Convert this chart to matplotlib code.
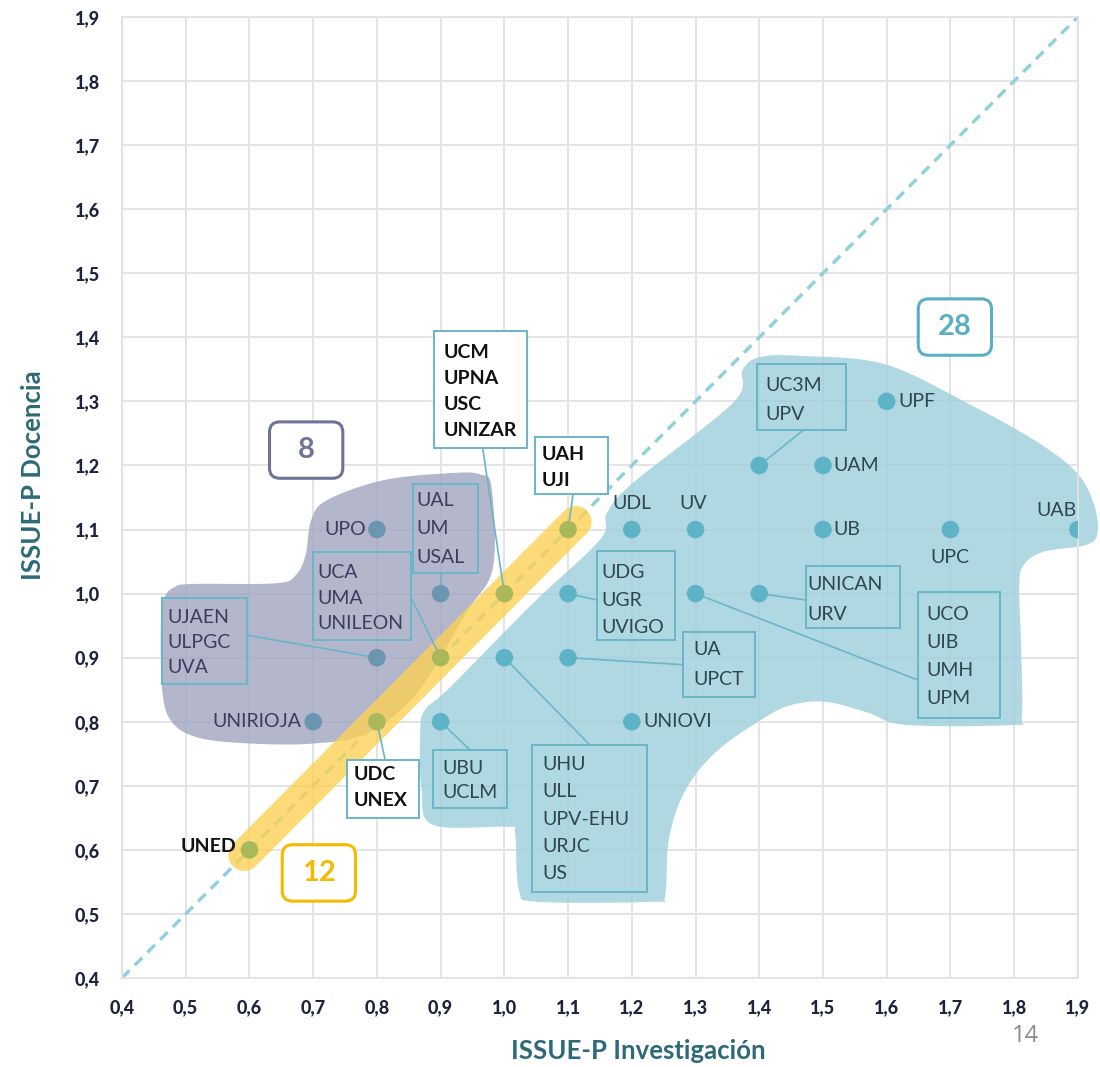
import numpy as np
import matplotlib
matplotlib.use("Agg")
import matplotlib.pyplot as plt
from matplotlib.patches import Rectangle, FancyBboxPatch, Polygon

# ---------------- data ----------------
ticks = [0.4, 0.5, 0.6, 0.7, 0.8, 0.9, 1.0, 1.1, 1.2, 1.3, 1.4, 1.5, 1.6, 1.7, 1.8, 1.9]
tick_labels = ["0,4", "0,5", "0,6", "0,7", "0,8", "0,9", "1,0", "1,1", "1,2", "1,3",
               "1,4", "1,5", "1,6", "1,7", "1,8", "1,9"]

purple_x = [0.8, 0.9, 0.8, 0.7]
purple_y = [1.1, 1.0, 0.9, 0.8]
purple_names = [["UPO"], ["UAL", "UM", "USAL"], ["UJAEN", "ULPGC", "UVA"], ["UNIRIOJA"]]

yellow_x = [0.6, 0.8, 0.9, 1.0, 1.1]
yellow_y = [0.6, 0.8, 0.9, 1.0, 1.1]
yellow_names = [["UNED"], ["UDC", "UNEX"], ["UCA", "UMA", "UNILEON"],
                ["UCM", "UPNA", "USC", "UNIZAR"], ["UAH", "UJI"]]

teal_x = [0.9, 1.0, 1.1, 1.1, 1.2, 1.2, 1.3, 1.3, 1.4, 1.4, 1.5, 1.5, 1.6, 1.7, 1.9]
teal_y = [0.8, 0.9, 0.9, 1.0, 0.8, 1.1, 1.1, 1.0, 1.0, 1.2, 1.2, 1.1, 1.3, 1.1, 1.1]
teal_names = [["UBU", "UCLM"], ["UHU", "ULL", "UPV-EHU", "URJC", "US"], ["UA", "UPCT"],
              ["UDG", "UGR", "UVIGO"], ["UNIOVI"], ["UDL"], ["UV"],
              ["UCO", "UIB", "UMH", "UPM"], ["UNICAN", "URV"], ["UC3M", "UPV"],
              ["UAM"], ["UB"], ["UPF"], ["UPC"], ["UAB"]]

group_counts = {"purple": 8, "yellow": 12, "teal": 28}

# hand drawn group outlines (data units)
purple_outline_x = [0.915, 0.962, 0.980, 0.982, 0.940, 0.863, 0.784, 0.700, 0.601, 0.520,
                    0.478, 0.463, 0.461, 0.466, 0.482, 0.510, 0.640, 0.672, 0.688, 0.697,
                    0.722, 0.810]
purple_outline_y = [1.188, 1.186, 1.165, 1.040, 0.970, 0.845, 0.782, 0.766, 0.766, 0.775,
                    0.800, 0.850, 0.960, 0.993, 1.010, 1.015, 1.016, 1.028, 1.060, 1.115,
                    1.146, 1.177]

teal_outline_x = [1.401, 1.465, 1.597, 1.729, 1.834, 1.897, 1.924, 1.931, 1.913, 1.845,
                  1.814, 1.808, 1.811, 1.812, 1.798, 1.630, 1.571, 1.505, 1.450, 1.403,
                  1.330, 1.282, 1.258, 1.252, 1.233, 1.053, 1.023, 1.017, 1.006, 0.888,
                  0.870, 0.868, 0.875, 0.915, 1.045, 1.150, 1.161, 1.202, 1.359, 1.374]
teal_outline_y = [1.369, 1.371, 1.358, 1.296, 1.238, 1.190, 1.143, 1.096, 1.076, 1.065,
                  1.043, 1.007, 0.912, 0.807, 0.795, 0.795, 0.814, 0.831, 0.826, 0.803,
                  0.751, 0.689, 0.615, 0.527, 0.519, 0.519, 0.537, 0.626, 0.636, 0.639,
                  0.694, 0.782, 0.818, 0.854, 0.985, 1.084, 1.126, 1.173, 1.298, 1.349]

# ---------------- style ----------------
FONT = ["Lato", "DejaVu Sans"]
plt.rcParams["font.family"] = FONT

TEAL_FILL = "#9ccfdc"
PURPLE_FILL = "#a1a4c0"
YELLOW_FILL = "#fcd155"
TEAL_DOT = "#5fb3c7"
PURPLE_DOT = "#6a96b2"
YELLOW_DOT = "#a9b85a"
BOX_EDGE = "#6ab6c9"
TXT_TEAL = "#2e4650"
TXT_PURPLE = "#3b3d5e"
TXT_YELLOW = "#111111"

fig = plt.figure(figsize=(11, 10.67), dpi=100)
ax = fig.add_axes([0.1109, 0.0834, 0.869, 0.9007])
ax.set_xlim(0.4, 1.9)
ax.set_ylim(0.4, 1.9)
ax.set_xticks(ticks)
ax.set_yticks(ticks)
ax.set_xticklabels(tick_labels, fontweight="black", fontsize=13, color="#1f2340")
ax.set_yticklabels(tick_labels, fontweight="black", fontsize=13, color="#1f2340")
ax.tick_params(axis="x", length=0, pad=15)
ax.tick_params(axis="y", length=0, pad=16)
ax.grid(True, color="#e2e2e2", lw=1.3, zorder=0)
for s in ax.spines.values():
    s.set_color("#e2e2e2")
    s.set_linewidth(1.3)
ax.set_axisbelow(True)


def smooth_closed(xs, ys, n=12):
    xs = np.asarray(xs); ys = np.asarray(ys)
    m = len(xs)
    out_x, out_y = [], []
    for i in range(m):
        p0 = np.array([xs[(i - 1) % m], ys[(i - 1) % m]])
        p1 = np.array([xs[i], ys[i]])
        p2 = np.array([xs[(i + 1) % m], ys[(i + 1) % m]])
        p3 = np.array([xs[(i + 2) % m], ys[(i + 2) % m]])
        for t in np.linspace(0, 1, n, endpoint=False):
            t2, t3 = t * t, t * t * t
            p = 0.5 * ((2 * p1) + (-p0 + p2) * t + (2 * p0 - 5 * p1 + 4 * p2 - p3) * t2
                       + (-p0 + 3 * p1 - 3 * p2 + p3) * t3)
            out_x.append(p[0]); out_y.append(p[1])
    return np.column_stack([out_x, out_y])


# regions
ax.add_patch(Polygon(smooth_closed(purple_outline_x, purple_outline_y), closed=True,
                     facecolor=PURPLE_FILL, edgecolor="none", alpha=0.8, zorder=1, clip_on=False))
ax.add_patch(Polygon(smooth_closed(teal_outline_x, teal_outline_y), closed=True,
                     facecolor=TEAL_FILL, edgecolor="none", alpha=0.8, zorder=1, clip_on=False))

# diagonal
ax.plot([0.4, 1.9], [0.4, 1.9], ls=(0, (3.2, 2.2)), color="#8fd0dc", lw=2.4, zorder=2)

# yellow band along the diagonal group
ax.plot([min(yellow_x) - 0.008, max(yellow_x) + 0.012], [min(yellow_y) - 0.008, max(yellow_y) + 0.012],
        color=YELLOW_FILL, lw=23, alpha=0.8, solid_capstyle="round", zorder=3)

# dots
ax.scatter(purple_x, purple_y, s=160, color=PURPLE_DOT, zorder=6, edgecolors="none")
ax.scatter(teal_x, teal_y, s=160, color=TEAL_DOT, zorder=6, edgecolors="none")
ax.scatter(yellow_x, yellow_y, s=160, color=YELLOW_DOT, zorder=6, edgecolors="none")

FS = 14
STEP = 0.0406


def boxed(names, px, py, rect, tx, ty, anchor, color, weight="normal", white=False, step=STEP):
    x0, y0, x1, y1 = rect
    ax.add_patch(Rectangle((x0, y0), x1 - x0, y1 - y0, facecolor="white" if white else "none",
                           edgecolor=BOX_EDGE, lw=1.4, zorder=7))
    ax.plot([px, anchor[0]], [py, anchor[1]], color=BOX_EDGE, lw=1.2, zorder=5)
    for k, nm in enumerate(names):
        ax.text(tx, ty - k * step, nm, fontsize=FS, color=color, fontweight=weight,
                ha="left", va="center", zorder=8)


def plain(name, x, y, color, ha="left", va="center", weight="normal"):
    ax.text(x, y, name, fontsize=FS, color=color, ha=ha, va=va, fontweight=weight, zorder=8)


# purple group labels
plain(purple_names[0][0], 0.783, purple_y[0], TXT_PURPLE, ha="right")
boxed(purple_names[1], purple_x[1], purple_y[1], (0.857, 1.032, 0.959, 1.171), 0.862, 1.146,
      (0.90, 1.032), TXT_PURPLE, step=0.045)
boxed(purple_names[2], purple_x[2], purple_y[2], (0.463, 0.859, 0.596, 0.993), 0.472, 0.963,
      (0.596, 0.935), TXT_PURPLE, step=0.039)
plain(purple_names[3][0], 0.682, purple_y[3], TXT_PURPLE, ha="right")

# yellow group labels
plain(yellow_names[0][0], 0.580, yellow_y[0] + 0.005, TXT_YELLOW, ha="right", weight="bold")
boxed(yellow_names[1], yellow_x[1], yellow_y[1], (0.753, 0.650, 0.866, 0.740), 0.764, 0.718,
      (0.813, 0.740), TXT_YELLOW, weight="bold", white=True)
boxed(yellow_names[2], yellow_x[2], yellow_y[2], (0.700, 0.928, 0.853, 1.065), 0.706, 1.033,
      (0.853, 0.995), TXT_PURPLE, step=0.040)
boxed(yellow_names[3], yellow_x[3], yellow_y[3], (0.890, 1.227, 1.036, 1.410), 0.905, 1.377,
      (0.966, 1.227), TXT_YELLOW, weight="bold", white=True)
boxed(yellow_names[4], yellow_x[4], yellow_y[4], (1.048, 1.156, 1.163, 1.244), 1.059, 1.217,
      (1.108, 1.156), TXT_YELLOW, weight="bold", white=True)

# teal group labels
boxed(teal_names[0], teal_x[0], teal_y[0], (0.888, 0.665, 1.004, 0.756), 0.902, 0.727,
      (0.946, 0.756), TXT_TEAL, step=0.038)
boxed(teal_names[1], teal_x[1], teal_y[1], (1.043, 0.534, 1.224, 0.764), 1.059, 0.733,
      (1.134, 0.764), TXT_TEAL, step=0.0425)
boxed(teal_names[2], teal_x[2], teal_y[2], (1.280, 0.839, 1.393, 0.940), 1.296, 0.912,
      (1.280, 0.889), TXT_TEAL, step=0.046)
boxed(teal_names[3], teal_x[3], teal_y[3], (1.145, 0.928, 1.268, 1.067), 1.153, 1.033,
      (1.145, 0.990), TXT_TEAL, step=0.043)
plain(teal_names[4][0], 1.218, teal_y[4], TXT_TEAL)
plain(teal_names[5][0], 1.200, 1.141, TXT_TEAL, ha="center")
plain(teal_names[6][0], 1.297, 1.141, TXT_TEAL, ha="center")
boxed(teal_names[7], teal_x[7], teal_y[7], (1.649, 0.806, 1.778, 1.003), 1.662, 0.968,
      (1.649, 0.865), TXT_TEAL, step=0.044)
boxed(teal_names[8], teal_x[8], teal_y[8], (1.473, 0.946, 1.621, 1.043), 1.476, 1.014,
      (1.473, 0.990), TXT_TEAL, step=0.046)
boxed(teal_names[9], teal_x[9], teal_y[9], (1.396, 1.255, 1.536, 1.358), 1.410, 1.325,
      (1.469, 1.255), TXT_TEAL, step=0.045)
plain(teal_names[10][0], 1.517, teal_y[10], TXT_TEAL)
plain(teal_names[11][0], 1.517, teal_y[11], TXT_TEAL)
plain(teal_names[12][0], 1.618, teal_y[12], TXT_TEAL)
plain(teal_names[13][0], 1.699, 1.057, TXT_TEAL, ha="center")
plain(teal_names[14][0], 1.867, 1.129, TXT_TEAL, ha="center")


# group count badges
def badge(text, cx, cy, color):
    w, h = 0.115, 0.088
    ax.add_patch(FancyBboxPatch((cx - w / 2, cy - h / 2), w, h,
                                boxstyle="round,pad=0,rounding_size=0.016",
                                facecolor="white", edgecolor=color, lw=2.2, zorder=9))
    ax.text(cx, cy, text, fontsize=21, fontweight="bold", color=color, ha="center", va="center",
            zorder=10)


badge(str(group_counts["purple"]), 0.689, 1.224, "#6f7398")
badge(str(group_counts["teal"]), 1.707, 1.416, "#5aafc4")
badge(str(group_counts["yellow"]), 0.709, 0.564, "#f7b900")

# axis labels
fig.text(0.030, 0.555, "ISSUE-P Docencia", rotation=90, fontsize=18.5, fontweight="bold",
         color="#2d6a78", ha="center", va="center")
fig.text(0.580, 0.004, "ISSUE-P Investigación", fontsize=18.5, fontweight="bold",
         color="#2d6a78", ha="center", va="bottom")
fig.text(0.932, 0.018, "14", fontsize=17, color="#8a8a8a", ha="center", va="bottom",
         family=["Open Sans", "DejaVu Sans"])

fig.savefig("out.png", dpi=100)
